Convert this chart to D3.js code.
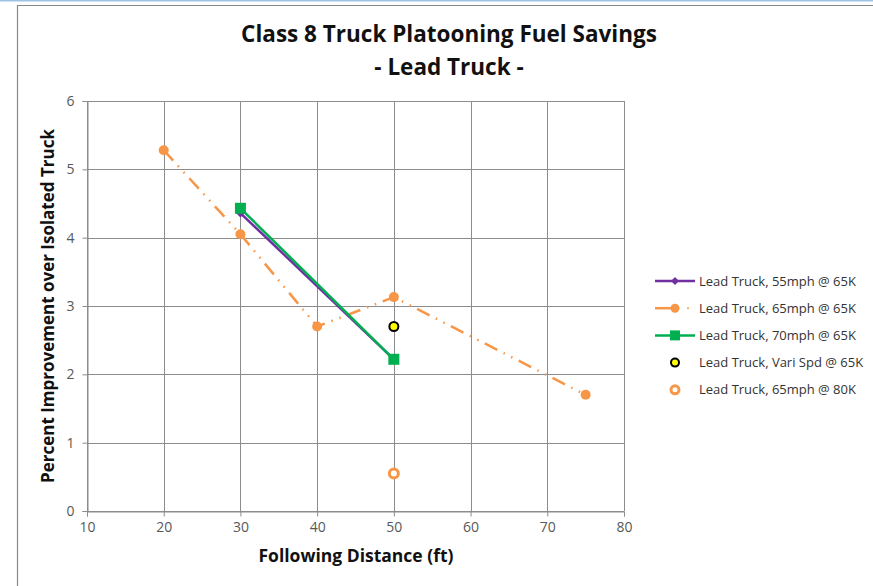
<!DOCTYPE html>
<html>
<head>
<meta charset="utf-8">
<script src="https://cdn.jsdelivr.net/npm/d3@7"></script>
<style>
  body { margin: 0; background: white; }
  svg { display: block; font-family: "Open Sans", "Noto Sans", sans-serif; }
</style>
</head>
<body>
<div id="chart"></div>
<script>
"use strict"

// following distance (ft) and percent improvement for each series
let speed55X = [30, 50];
let speed55Y = [4.36, 2.22];
let speed65X = [20, 30, 40, 50, 75];
let speed65Y = [5.28, 4.05, 2.70, 3.13, 1.70];
let speed70X = [30, 50];
let speed70Y = [4.43, 2.22];
let variX = [50];
let variY = [2.70];
let heavyX = [50];
let heavyY = [0.55];

let xTicks = [10, 20, 30, 40, 50, 60, 70, 80];
let yTicks = [0, 1, 2, 3, 4, 5, 6];

let legendNames = [
  "Lead Truck, 55mph @ 65K",
  "Lead Truck, 65mph @ 65K",
  "Lead Truck, 70mph @ 65K",
  "Lead Truck, Vari Spd @ 65K",
  "Lead Truck, 65mph @ 80K"
];

let width = 873, height = 586;
let plotLeft = 87, plotRight = 624, plotTop = 101, plotBottom = 511;

let svg = d3.select("#chart").append("svg")
  .attr("width", width)
  .attr("height", height);

// outer frame
svg.append("line").attr("x1", 0).attr("x2", width).attr("y1", 0.5).attr("y2", 0.5)
  .style("stroke", "#9dc3e6").style("stroke-width", 2);
svg.append("path").attr("d", "M17.5," + height + "V5.5H" + width)
  .style("fill", "none").style("stroke", "#888").style("stroke-width", 1.2);

let xScale = d3.scaleLinear().domain([10, 80]).range([plotLeft, plotRight]);
let yScale = d3.scaleLinear().domain([0, 6]).range([plotBottom, plotTop]);

// grid
let grid = svg.append("g").style("stroke", "#8c8c8c").style("stroke-width", 1);
grid.selectAll(".gx").data(xTicks).enter().append("line")
  .attr("x1", d => Math.round(xScale(d)) + 0.5).attr("x2", d => Math.round(xScale(d)) + 0.5)
  .attr("y1", plotTop).attr("y2", plotBottom);
grid.selectAll(".gy").data(yTicks).enter().append("line")
  .attr("x1", plotLeft).attr("x2", plotRight)
  .attr("y1", d => Math.round(yScale(d)) + 0.5).attr("y2", d => Math.round(yScale(d)) + 0.5);

// axes
let xAxis = svg.append("g")
  .attr("transform", "translate(0," + (Math.round(plotBottom) + 0.5) + ")")
  .call(d3.axisBottom(xScale).tickValues(xTicks).tickFormat(d3.format("d")).tickSize(5).tickPadding(6));
let yAxis = svg.append("g")
  .attr("transform", "translate(" + (Math.round(plotLeft) + 0.5) + ",0)")
  .call(d3.axisLeft(yScale).tickValues(yTicks).tickFormat(d3.format("d")).tickSize(5).tickPadding(8));

[xAxis, yAxis].forEach(function(a) {
  a.selectAll("path, line").style("stroke", "#8c8c8c");
  a.selectAll("text").style("font-size", "14px").style("fill", "#595959")
    .style("font-family", "'Open Sans', sans-serif");
});

// titles
svg.append("text").attr("x", 449).attr("y", 42).attr("text-anchor", "middle")
  .style("font-size", "22.5px").style("font-weight", "bold").style("fill", "#111")
  .text("Class 8 Truck Platooning Fuel Savings");
svg.append("text").attr("x", 449).attr("y", 75).attr("text-anchor", "middle")
  .style("font-size", "22.5px").style("font-weight", "bold").style("fill", "#111")
  .text("- Lead Truck -");
svg.append("text").attr("x", 356).attr("y", 562).attr("text-anchor", "middle")
  .style("font-size", "17.5px").style("font-weight", "bold").style("fill", "#111")
  .text("Following Distance (ft)");
svg.append("text").attr("transform", "translate(54,306) rotate(-90)").attr("text-anchor", "middle")
  .style("font-size", "17px").style("font-weight", "bold").style("fill", "#111")
  .text("Percent Improvement over Isolated Truck");

let line = d3.line().x(d => xScale(d[0])).y(d => yScale(d[1]));
let purple = "#7030a0", orange = "#f79646", green = "#00b050";

// 65 mph series (dash-dot-dot)
svg.append("path").datum(d3.zip(speed65X, speed65Y)).attr("d", line)
  .style("fill", "none").style("stroke", orange).style("stroke-width", 2.5)
  .style("stroke-dasharray", "14,7,1.5,7,1.5,7");
svg.selectAll(".p65").data(d3.zip(speed65X, speed65Y)).enter().append("circle")
  .attr("cx", d => xScale(d[0])).attr("cy", d => yScale(d[1])).attr("r", 5)
  .style("fill", orange);

// 55 mph series
svg.append("path").datum(d3.zip(speed55X, speed55Y)).attr("d", line)
  .style("fill", "none").style("stroke", purple).style("stroke-width", 2.5);
svg.selectAll(".p55").data(d3.zip(speed55X, speed55Y)).enter().append("path")
  .attr("transform", d => "translate(" + xScale(d[0]) + "," + yScale(d[1]) + ")")
  .attr("d", "M0,-4.5L4.5,0L0,4.5L-4.5,0Z").style("fill", purple);

// 70 mph series
svg.append("path").datum(d3.zip(speed70X, speed70Y)).attr("d", line)
  .style("fill", "none").style("stroke", green).style("stroke-width", 2.5);
svg.selectAll(".p70").data(d3.zip(speed70X, speed70Y)).enter().append("rect")
  .attr("x", d => xScale(d[0]) - 5.5).attr("y", d => yScale(d[1]) - 5.5)
  .attr("width", 11).attr("height", 11).style("fill", green);

// variable speed
svg.selectAll(".pv").data(d3.zip(variX, variY)).enter().append("circle")
  .attr("cx", d => xScale(d[0])).attr("cy", d => yScale(d[1])).attr("r", 4.5)
  .style("fill", "#ffff00").style("stroke", "#000").style("stroke-width", 2);

// 80K load
svg.selectAll(".ph").data(d3.zip(heavyX, heavyY)).enter().append("circle")
  .attr("cx", d => xScale(d[0])).attr("cy", d => yScale(d[1])).attr("r", 4.5)
  .style("fill", "#fff").style("stroke", orange).style("stroke-width", 3);

// legend
let legend = svg.append("g").attr("transform", "translate(655,281)");
let rowStep = 27.2;
legendNames.forEach(function(name, i) {
  let g = legend.append("g").attr("transform", "translate(0," + (i * rowStep) + ")");
  if (i === 0) {
    g.append("line").attr("x1", 0).attr("x2", 40).style("stroke", purple).style("stroke-width", 2.5);
    g.append("path").attr("transform", "translate(20,0)").attr("d", "M0,-4L4,0L0,4L-4,0Z").style("fill", purple);
  } else if (i === 1) {
    g.append("line").attr("x1", 0).attr("x2", 20).style("stroke", orange).style("stroke-width", 2.5);
    g.append("circle").attr("cx", 20).attr("r", 4.5).style("fill", orange);
    g.append("circle").attr("cx", 33).attr("r", 1).style("fill", orange);
  } else if (i === 2) {
    g.append("line").attr("x1", 0).attr("x2", 40).style("stroke", green).style("stroke-width", 2.5);
    g.append("rect").attr("x", 15).attr("y", -5).attr("width", 10).attr("height", 10).style("fill", green);
  } else if (i === 3) {
    g.append("circle").attr("cx", 20).attr("r", 4).style("fill", "#ffff00")
      .style("stroke", "#000").style("stroke-width", 2);
  } else {
    g.append("circle").attr("cx", 20).attr("r", 4).style("fill", "#fff")
      .style("stroke", orange).style("stroke-width", 3);
  }
  g.append("text").attr("x", 44).attr("y", 4.5)
    .style("font-size", "13px").style("fill", "#333").text(name);
});
</script>
</body>
</html>
